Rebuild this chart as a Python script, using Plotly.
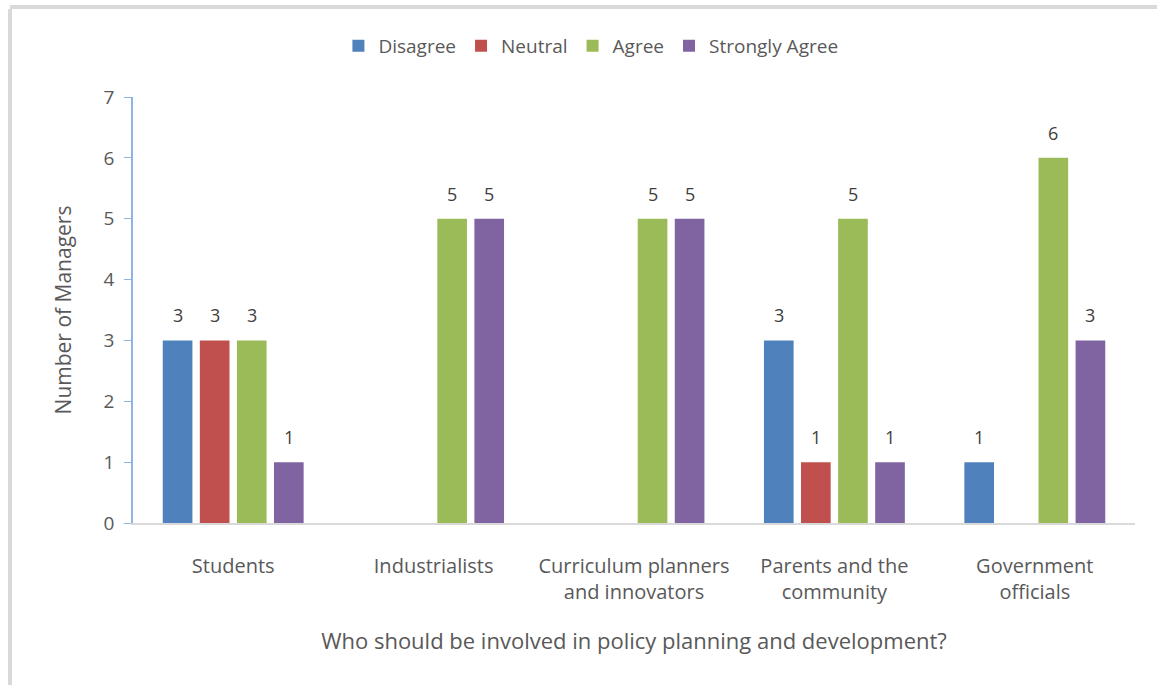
import plotly.graph_objects as go

categories = [
    "Students",
    "Industrialists",
    "Curriculum planners<br>and innovators",
    "Parents and the<br>community",
    "Government<br>officials",
]
disagree = [3, None, None, 3, 1]
neutral = [3, None, None, 1, None]
agree = [3, 5, 5, 5, 6]
strongly_agree = [1, 5, 5, 1, 3]

series = [
    ("Disagree", disagree, "#4F81BD"),
    ("Neutral", neutral, "#C0504D"),
    ("Agree", agree, "#9BBB59"),
    ("Strongly Agree", strongly_agree, "#8064A2"),
]

FONT = "'Open Sans', sans-serif"
GREY = "#595959"

fig = go.Figure()
for i, (name, vals, color) in enumerate(series):
    fig.add_trace(go.Bar(
        name=name,
        x=categories,
        y=vals,
        offsetgroup=str(i),
        marker=dict(color=color, line=dict(width=0)),
    ))

# value labels above each bar, placed with the same grouped-bar geometry
n = len(series)
bargap, bargroupgap = 0.26, 0.2
slot = (1 - bargap) / n
annotations = []
for i, (name, vals, color) in enumerate(series):
    off = -(1 - bargap) / 2 + slot * (i + 0.5)
    for c, v in enumerate(vals):
        if v is None:
            continue
        annotations.append(dict(
            x=c + off, y=v, xref="x", yref="y",
            text=str(v), showarrow=False,
            yanchor="bottom", yshift=11,
            font=dict(size=18, color="#404040", family=FONT),
        ))

fig.update_layout(
    width=1157,
    height=685,
    paper_bgcolor="white",
    plot_bgcolor="white",
    barmode="group",
    bargap=bargap,
    bargroupgap=bargroupgap,
    margin=dict(l=133, r=22, t=97, b=162),
    font=dict(family=FONT, color=GREY),
    showlegend=True,
    legend=dict(
        orientation="h",
        x=0.457, xanchor="center",
        y=1.12, yanchor="middle",
        font=dict(size=19, color=GREY),
        itemwidth=30,
        traceorder="normal",
    ),
    xaxis=dict(
        showline=True,
        linecolor="#D9D9D9",
        linewidth=1.5,
        ticks="",
        ticklabelstandoff=24,
        tickfont=dict(size=20, color=GREY),
        title=dict(
            text="Who should be involved in policy planning and development?",
            font=dict(size=22, color=GREY),
            standoff=30,
        ),
        automargin=False,
    ),
    yaxis=dict(
        range=[0, 7],
        dtick=1,
        showgrid=False,
        zeroline=False,
        showline=True,
        linecolor="#8EB4E3",
        linewidth=1.5,
        ticks="outside",
        ticklen=7,
        tickcolor="#8EB4E3",
        ticklabelstandoff=6,
        tickfont=dict(size=19, color=GREY),
        title=dict(text="Number of Managers", font=dict(size=21, color=GREY), standoff=26),
        automargin=False,
    ),
    annotations=annotations,
    shapes=[
        # outer frame edges (left and top)
        dict(type="line", xref="paper", yref="paper",
             x0=-123 / 1002, x1=-123 / 1002, y0=1 + 88 / 426, y1=-1.0,
             line=dict(color="#D9D9D9", width=4)),
        dict(type="line", xref="paper", yref="paper",
             x0=-123 / 1002, x1=1.05, y0=1 + 90 / 426, y1=1 + 90 / 426,
             line=dict(color="#D9D9D9", width=4)),
    ],
)

fig.write_html("out.html")
